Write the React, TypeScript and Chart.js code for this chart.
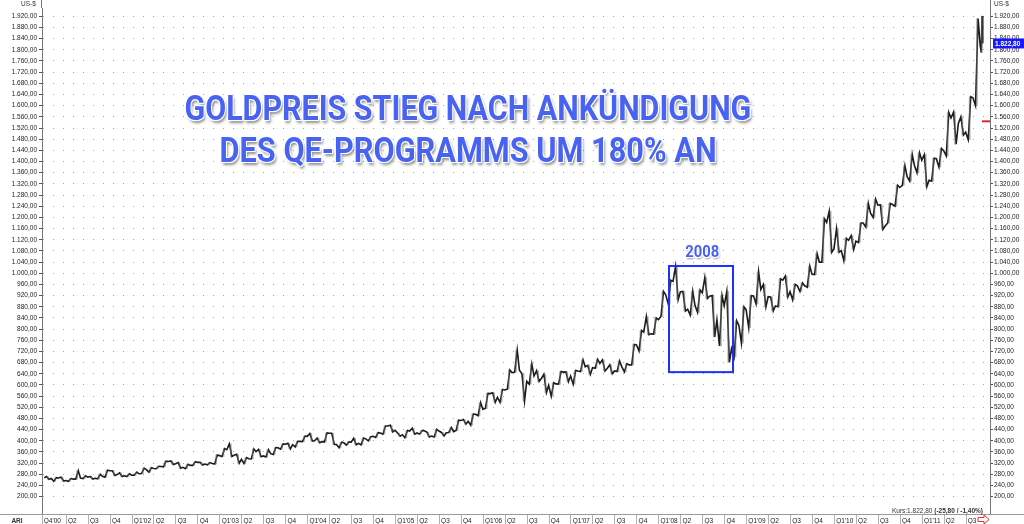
import React, { useEffect, useRef } from 'react';
import { Chart, registerables } from 'chart.js';

Chart.register(...registerables);

// ---- data: monthly gold price (US-$), Jan 2001 .. early Sep 2011 ----
const START_YEAR = 2001;
const HIGH = [
  272, 268, 270, 265, 293, 275, 272, 280, 295, 293, 285, 282,
  288, 302, 304, 309, 327, 328, 322, 316, 325, 323, 322, 349,
  372, 389, 352, 340, 371, 369, 368, 376, 389, 391, 398, 417,
  426, 410, 428, 427, 395, 396, 409, 410, 415, 429, 453, 456,
  428, 437, 445, 437, 431, 441, 430, 448, 474, 476, 496, 537,
  570, 572, 584, 654, 725, 640, 675, 651, 638, 608, 648, 647,
  652, 690, 670, 692, 690, 672, 686, 676, 745, 795, 845, 840,
  935, 975, 1025, 935, 935, 940, 985, 920, 920, 935, 830, 880,
  920, 1005, 960, 915, 980, 990, 960, 965, 1025, 1070, 1195, 1222,
  1160, 1125, 1135, 1180, 1250, 1265, 1245, 1250, 1315, 1385, 1425, 1431,
  1425, 1412, 1447, 1576, 1577, 1560, 1632, 1912, 1921,
];
const LOW = [
  262, 255, 256, 255, 263, 265, 263, 264, 270, 276, 272, 272,
  277, 283, 288, 300, 307, 315, 302, 300, 312, 313, 314, 317,
  344, 344, 320, 319, 335, 343, 342, 351, 370, 371, 378, 397,
  399, 393, 396, 387, 375, 385, 386, 386, 400, 412, 424, 432,
  417, 411, 424, 424, 414, 414, 418, 430, 437, 460, 456, 490,
  516, 538, 538, 585, 646, 542, 603, 613, 573, 560, 603, 612,
  603, 648, 638, 660, 650, 640, 648, 647, 672, 722, 780, 782,
  845, 890, 905, 865, 850, 860, 910, 772, 740, 681, 700, 750,
  805, 890, 880, 865, 880, 915, 905, 935, 950, 995, 1040, 1075,
  1075, 1045, 1085, 1110, 1165, 1200, 1157, 1180, 1240, 1315, 1330, 1360,
  1310, 1330, 1380, 1420, 1462, 1495, 1478, 1600, 1790,
];
const CLOSE = [
  265, 267, 258, 263, 267, 270, 266, 273, 293, 279, 275, 277,
  282, 297, 301, 308, 326, 318, 305, 312, 323, 317, 319, 347,
  368, 348, 334, 336, 361, 346, 354, 375, 388, 386, 398, 416,
  400, 397, 427, 387, 393, 395, 391, 407, 416, 428, 453, 438,
  422, 435, 428, 436, 417, 435, 429, 433, 473, 470, 495, 513,
  569, 556, 582, 644, 653, 613, 632, 623, 599, 604, 646, 632,
  650, 665, 662, 677, 659, 650, 665, 672, 743, 789, 783, 834,
  923, 971, 933, 871, 885, 930, 918, 833, 884, 730, 814, 869,
  919, 942, 916, 883, 975, 934, 955, 955, 996, 1040, 1182, 1087,
  1081, 1118, 1115, 1180, 1215, 1244, 1169, 1246, 1307, 1346, 1386, 1405,
  1333, 1410, 1439, 1556, 1536, 1505, 1628, 1813, 1823,
];
const FIRST_OPEN = 268;
const LAST_MONTH_SPAN = 0.3; // part of the last month that is covered

const XTICK_LABELS = [
  "Q4'00", 'Q2', 'Q3', 'Q4',
  "Q1'02", 'Q2', 'Q3', 'Q4',
  "Q1'03", 'Q2', 'Q3', 'Q4',
  "Q1'04", 'Q2', 'Q3', 'Q4',
  "Q1'05", 'Q2', 'Q3', 'Q4',
  "Q1'06", 'Q2', 'Q3', 'Q4',
  "Q1'07", 'Q2', 'Q3', 'Q4',
  "Q1'08", 'Q2', 'Q3', 'Q4',
  "Q1'09", 'Q2', 'Q3', 'Q4',
  "Q1'10", 'Q2', 'Q3', 'Q4',
  "Q1'11", 'Q2', 'Q3',
];

// axis ranges (months since Jan 2001 / US-$)
const X_MIN = -0.31;
const X_MAX = 129.28;
const Y_MIN = 138;
const Y_MAX = 1949.7;
const Y_TICK_FIRST = 200;
const Y_TICK_LAST = 1920;
const Y_TICK_STEP = 40;

// annotations
const BOX_X = [85.4, 94.15];
const BOX_Y = [646, 1026];
const LAST_PRICE = 1822.8;
const MARKER_PRICE = 1544;
const KURS_TEXT = 'Kurs:1.822,80 ';
const KURS_CHANGE = '(-25,80 / -1,40%)';
const TITLE_1 = 'GOLDPREIS STIEG NACH ANKÜNDIGUNG';
const TITLE_2 = 'DES QE-PROGRAMMS UM 180% AN';

const AXIS_FONT = "'Liberation Sans', Arial, sans-serif";
const TITLE_BLUE = '#4862f2';

const fmt = (v: number) =>
  v.toLocaleString('de-DE', { minimumFractionDigits: 2, maximumFractionDigits: 2 });

const annotationPlugin = {
  id: 'annotations',
  afterDatasetsDraw(chart: any) {
    const { ctx, scales } = chart;
    const x = scales.x;
    const y = scales.y;
    ctx.save();
    ctx.strokeStyle = '#2030ff';
    ctx.lineWidth = 2;
    const x1 = x.getPixelForValue(BOX_X[0]);
    const x2 = x.getPixelForValue(BOX_X[1]);
    const y1 = y.getPixelForValue(BOX_Y[1]);
    const y2 = y.getPixelForValue(BOX_Y[0]);
    ctx.strokeRect(x1, y1, x2 - x1, y2 - y1);
    ctx.restore();
  },
  afterDraw(chart: any) {
    const { ctx, chartArea, scales, width, height } = chart;
    const y = scales.y;
    ctx.save();
    ctx.strokeStyle = '#9a9a9a';
    ctx.lineWidth = 1;
    ctx.beginPath();
    ctx.moveTo(0, chartArea.bottom + 0.5);
    ctx.lineTo(width, chartArea.bottom + 0.5);
    ctx.stroke();
    ctx.strokeStyle = '#777';
    ctx.beginPath();
    ctx.moveTo(chartArea.left - 0.5, 0);
    ctx.lineTo(chartArea.left - 0.5, chartArea.top);
    ctx.moveTo(chartArea.right + 0.5, 0);
    ctx.lineTo(chartArea.right + 0.5, chartArea.top);
    ctx.stroke();

    ctx.fillStyle = '#333';
    ctx.font = `6.5px ${AXIS_FONT}`;
    ctx.textBaseline = 'alphabetic';
    ctx.textAlign = 'left';
    ctx.fillText('US-$', 21, 5.5);
    ctx.fillText('US-$', chartArea.right + 4, 5.5);
    ctx.font = `bold 6.5px ${AXIS_FONT}`;
    ctx.textAlign = 'center';
    ctx.fillText('ARI', 17, height - 1.5);

    ctx.textAlign = 'right';
    ctx.font = `bold 6.5px ${AXIS_FONT}`;
    const kx = chartArea.right - 7;
    const ky = chartArea.bottom - 1.5;
    ctx.fillText(KURS_CHANGE, kx, ky);
    const w = ctx.measureText(KURS_CHANGE).width;
    ctx.font = `6.5px ${AXIS_FONT}`;
    ctx.fillText(KURS_TEXT, kx - w, ky);

    const my = y.getPixelForValue(MARKER_PRICE);
    ctx.strokeStyle = '#e02828';
    ctx.lineWidth = 2;
    ctx.beginPath();
    ctx.moveTo(chartArea.right - 8, my);
    ctx.lineTo(chartArea.right, my);
    ctx.stroke();

    const py = y.getPixelForValue(LAST_PRICE);
    ctx.fillStyle = '#1818ff';
    ctx.fillRect(chartArea.right + 3, py - 5, 31, 10);
    ctx.fillStyle = '#ffffff';
    ctx.font = `bold 6.5px ${AXIS_FONT}`;
    ctx.textAlign = 'left';
    ctx.textBaseline = 'middle';
    ctx.fillText(fmt(LAST_PRICE), chartArea.right + 5, py + 0.5);

    const ay = (chartArea.bottom + height) / 2 + 0.5;
    const ax = chartArea.right - 12;
    ctx.strokeStyle = '#e83030';
    ctx.fillStyle = '#fff';
    ctx.lineWidth = 1;
    ctx.beginPath();
    ctx.moveTo(ax, ay - 2);
    ctx.lineTo(ax + 6, ay - 2);
    ctx.lineTo(ax + 6, ay - 4.5);
    ctx.lineTo(ax + 11, ay);
    ctx.lineTo(ax + 6, ay + 4.5);
    ctx.lineTo(ax + 6, ay + 2);
    ctx.lineTo(ax, ay + 2);
    ctx.closePath();
    ctx.fill();
    ctx.stroke();
    ctx.restore();
  },
};

const textShadow =
  '1px 1px 0 #fff, -1px -1px 0 #fff, 1px -1px 0 #fff, -1px 1px 0 #fff, 0 0 2px #fff, 2px 3px 3px rgba(50,50,50,0.55)';

export default function App() {
  const canvasRef = useRef<HTMLCanvasElement | null>(null);
  const t1 = useRef<HTMLSpanElement | null>(null);
  const t2 = useRef<HTMLSpanElement | null>(null);
  const t3 = useRef<HTMLSpanElement | null>(null);

  useEffect(() => {
    document.body.style.margin = '0';
    const fit = () => {
      const pairs: [HTMLSpanElement | null, number][] = [
        [t1.current, 567],
        [t2.current, 497],
        [t3.current, 34],
      ];
      pairs.forEach(([el, target]) => {
        if (!el) return;
        el.style.transform = 'none';
        const w = el.getBoundingClientRect().width;
        if (w > 0) el.style.transform = `scaleX(${target / w})`;
      });
    };
    fit();
    if ((document as any).fonts && (document as any).fonts.ready) {
      (document as any).fonts.ready.then(fit);
    }

    const n = HIGH.length;
    const span = (i: number) => (i === n - 1 ? LAST_MONTH_SPAN : 1);
    // price path per month: open -> first extreme -> second extreme -> close
    const path: { x: number; y: number }[] = [{ x: 0, y: FIRST_OPEN }];
    for (let i = 0; i < n; i++) {
      const s = span(i);
      const open = i === 0 ? FIRST_OPEN : CLOSE[i - 1];
      const up = CLOSE[i] >= open;
      const first = up ? LOW[i] : HIGH[i];
      const second = up ? HIGH[i] : LOW[i];
      path.push({ x: i + 0.3 * s, y: first });
      path.push({ x: i + 0.65 * s, y: second });
      path.push({ x: i + 0.95 * s, y: CLOSE[i] });
    }

    const yTicks: number[] = [];
    for (let v = Y_TICK_FIRST; v <= Y_TICK_LAST; v += Y_TICK_STEP) yTicks.push(v);
    const xTicks = XTICK_LABELS.map((_, i) => (i === 0 ? X_MIN : i * 3));

    const canvas = canvasRef.current!;
    const chart = new Chart(canvas, {
      type: 'bar',
      data: {
        datasets: [
          {
            type: 'bar',
            label: `Gold ${START_YEAR}-2011 range`,
            data: HIGH.map((h, i) => ({ x: i + 0.5 * span(i), y: [LOW[i], h] })) as any,
            backgroundColor: 'rgba(110,110,110,0.55)',
            borderWidth: 0,
            barThickness: 1,
            xAxisID: 'x',
            yAxisID: 'y',
          } as any,
          {
            type: 'line',
            label: 'Price path',
            data: path as any,
            borderColor: '#1c1c1c',
            borderWidth: 1.6,
            pointRadius: 0,
            tension: 0,
            borderJoinStyle: 'miter',
            xAxisID: 'x',
            yAxisID: 'y',
          } as any,
        ],
      },
      options: {
        animation: false,
        responsive: false,
        devicePixelRatio: 1,
        layout: { padding: { top: 8, left: 0, right: 0, bottom: 0 } },
        plugins: { legend: { display: false }, tooltip: { enabled: false } },
        scales: {
          x: {
            type: 'linear',
            position: 'bottom',
            min: X_MIN,
            max: X_MAX,
            offset: false,
            afterBuildTicks: (s: any) => {
              s.ticks = xTicks.map((v) => ({ value: v }));
            },
            afterFit: (s: any) => {
              s.height = 10;
            },
            ticks: {
              autoSkip: false,
              maxRotation: 0,
              minRotation: 0,
              align: 'start',
              padding: -7,
              color: '#222',
              font: { family: AXIS_FONT, size: 6.5 },
              callback: (_v: any, i: number) => ' ' + XTICK_LABELS[i],
            },
            grid: {
              offset: false,
              drawOnChartArea: false,
              drawTicks: true,
              tickLength: 10,
              tickColor: '#b0b0b0',
              tickWidth: 1,
            },
            border: { display: false },
          } as any,
          y: {
            type: 'linear',
            position: 'left',
            min: Y_MIN,
            max: Y_MAX,
            beginAtZero: false,
            afterBuildTicks: (s: any) => {
              s.ticks = yTicks.map((v) => ({ value: v }));
            },
            afterFit: (s: any) => {
              s.width = 42;
            },
            ticks: {
              padding: 2,
              color: '#222',
              font: { family: AXIS_FONT, size: 6.5 },
              callback: (v: any) => fmt(Number(v)),
            },
            grid: {
              drawOnChartArea: true,
              color: '#a4a4a4',
              lineWidth: 1,
              drawTicks: true,
              tickLength: 3,
              tickColor: '#555',
              tickBorderDash: [],
            },
            border: { display: true, color: '#777', width: 1, dash: [1, 9] },
          } as any,
          y2: {
            type: 'linear',
            position: 'right',
            min: Y_MIN,
            max: Y_MAX,
            afterBuildTicks: (s: any) => {
              s.ticks = yTicks.map((v) => ({ value: v }));
            },
            afterFit: (s: any) => {
              s.width = 34;
            },
            ticks: {
              padding: 1,
              color: '#222',
              font: { family: AXIS_FONT, size: 6.5 },
              callback: (v: any) => fmt(Number(v)),
            },
            grid: {
              drawOnChartArea: false,
              drawTicks: true,
              tickLength: 3,
              tickColor: '#555',
            },
            border: { display: true, color: '#777', width: 1 },
          } as any,
        },
      } as any,
      plugins: [annotationPlugin as any],
    });
    return () => chart.destroy();
  }, []);

  const titleStyle: React.CSSProperties = {
    position: 'absolute',
    left: 0,
    width: 936,
    textAlign: 'center',
    fontFamily: 'Roboto, sans-serif',
    fontWeight: 700,
    fontSize: 35,
    lineHeight: '35px',
    color: TITLE_BLUE,
    whiteSpace: 'nowrap',
    textShadow,
    pointerEvents: 'none',
  };

  return (
    <div style={{ position: 'relative', width: 1024, height: 524, overflow: 'hidden', background: '#fff' }}>
      <canvas ref={canvasRef} width={1024} height={524} style={{ display: 'block' }} />
      <div style={{ ...titleStyle, top: 91 }}>
        <span ref={t1} style={{ display: 'inline-block', transformOrigin: 'center' }}>{TITLE_1}</span>
      </div>
      <div style={{ ...titleStyle, top: 133 }}>
        <span ref={t2} style={{ display: 'inline-block', transformOrigin: 'center' }}>{TITLE_2}</span>
      </div>
      <div
        style={{
          ...titleStyle,
          left: 652,
          width: 100,
          top: 243.5,
          fontSize: 16,
          lineHeight: '16px',
          textShadow: '1px 1px 0 #fff, -1px -1px 0 #fff, 1px -1px 0 #fff, -1px 1px 0 #fff, 1px 2px 2px rgba(50,50,50,0.5)',
        }}
      >
        <span ref={t3} style={{ display: 'inline-block', transformOrigin: 'center' }}>2008</span>
      </div>
    </div>
  );
}
